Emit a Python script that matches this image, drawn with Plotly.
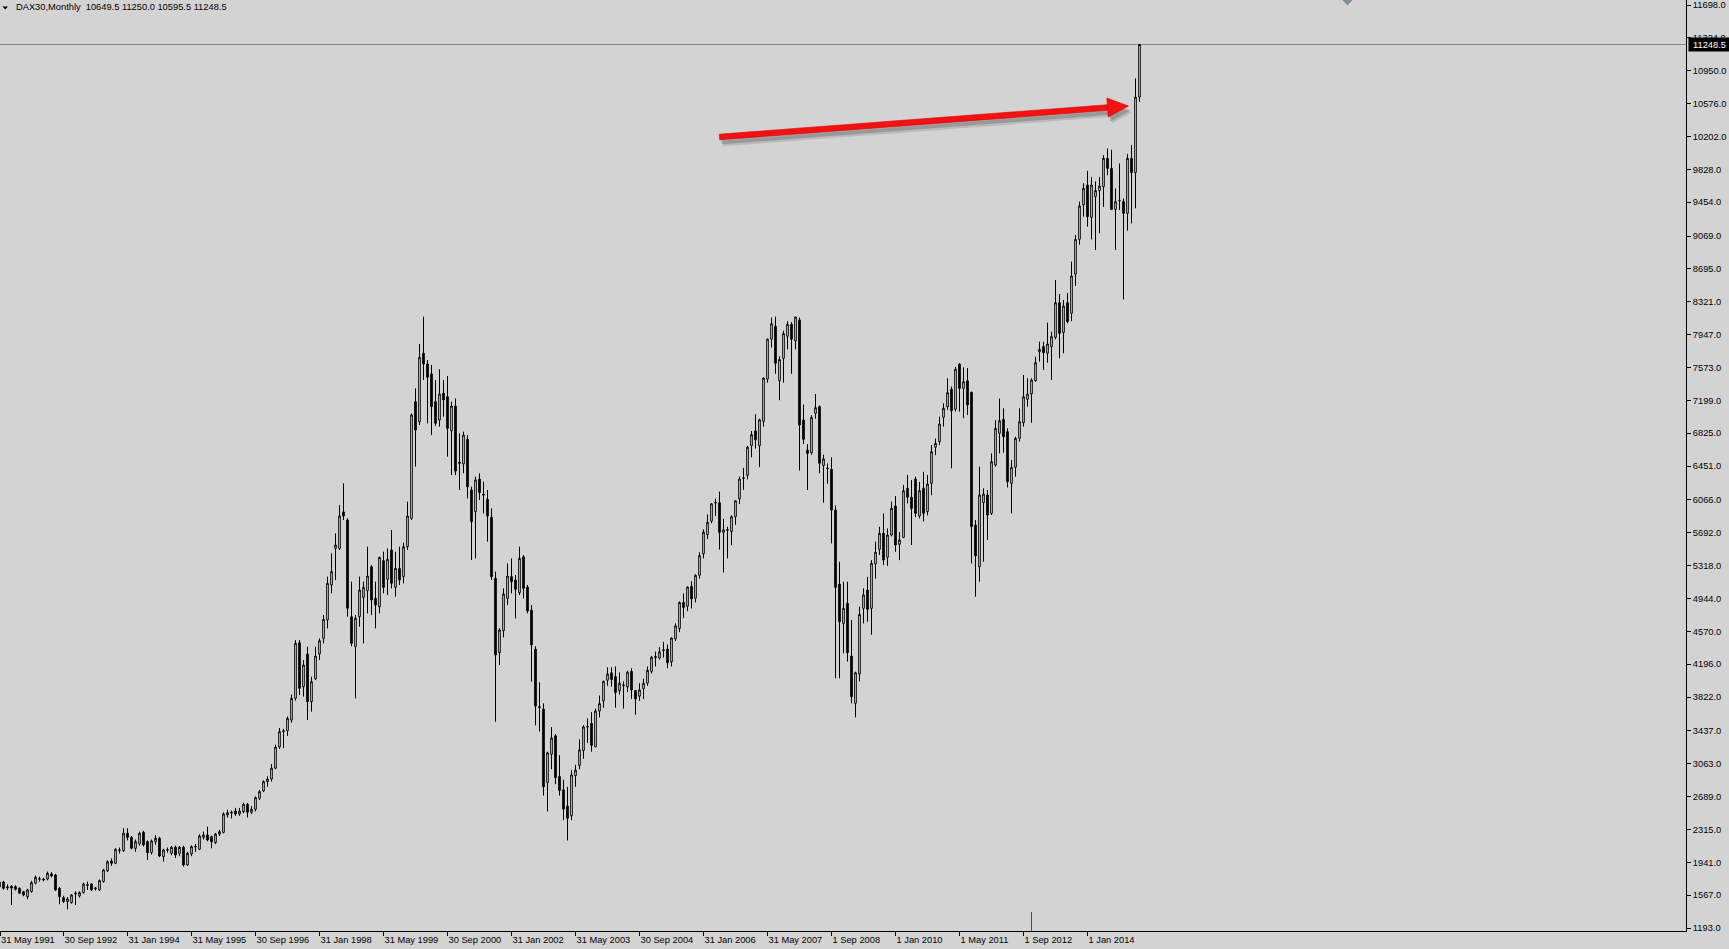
import plotly.graph_objects as go

# ---------------- data (DAX30 monthly, May 1991 .. Feb 2015) ----------------
# index 0 = May 1991, one bar per month
opens = [
    1660, 1717, 1662, 1668, 1664, 1645, 1607, 1550,
    1607, 1702, 1748, 1751, 1751, 1808, 1797, 1645, 1539, 1493, 1482, 1580,
    1558, 1596, 1686, 1694, 1640, 1626, 1721, 1846, 1956, 1930, 2076, 2074,
    2271, 2225, 2100, 2150, 2282, 2176, 2051, 2176, 2214, 2005, 2078, 2043,
    2112, 2043, 2112, 1911, 2036, 2115, 2089, 2225, 2252, 2233, 2165, 2263,
    2282, 2480, 2499, 2525, 2491, 2518, 2601, 2510, 2544, 2669, 2753, 2859,
    2889, 3012, 3253, 3428, 3438, 3560, 3807, 4440, 3940, 4311, 3769, 4030,
    4312, 4490, 4699, 5097, 5514, 5514, 5928, 5837, 4736, 4395, 4736, 4957,
    5032, 5305, 4945, 4850, 5374, 5161, 5495, 5070, 5286, 5192, 5533, 5855,
    7183, 6956, 7734, 7612, 7498, 7183, 6975, 7278, 7240, 6853, 7134, 6480,
    6474, 6755, 6178, 5931, 6303, 6130, 6072, 5867, 5173, 4327, 4577, 4945,
    5192, 5154, 5010, 5419, 5074, 4812, 4366, 3700, 3684, 2850, 3170, 3381,
    2918, 2766, 2581, 2471, 2926, 3044, 3213, 3480, 3524, 3255, 3663, 3777,
    4013, 4097, 4055, 3895, 3950, 3937, 4114, 3895, 3832, 3916, 3979, 4114,
    4270, 4265, 4350, 4366, 4223, 4484, 4602, 4897, 4855, 5082, 4947, 5208,
    5452, 5671, 5823, 6030, 6034, 5697, 5720, 5705, 5874, 6076, 6310, 6345,
    6682, 6850, 6682, 6960, 7440, 7895, 8042, 7423, 7676, 7928, 8063, 7874,
    8114, 6975, 6633, 6603, 7051, 7127, 6455, 6420, 6413, 5950, 5108, 4660,
    4888, 4289, 3750, 4084, 4831, 5040, 4831, 5336, 5503, 5685, 5412, 5666,
    5996, 5560, 5639, 6197, 6095, 6303, 5882, 6197, 5932, 6254, 6664, 6728,
    7005, 7127, 7324, 7096, 7612, 7335, 7422, 7290, 5780, 5305, 6034, 6121,
    5912, 6463, 6823, 6982, 6842, 6254, 6436, 6766, 6944, 7210, 7271, 7422,
    7752, 7810, 7734, 7810, 7916, 8310, 7969, 8310, 8189, 8636, 9031, 9422,
    9649, 9281, 9517, 9585, 9630, 9953, 9839, 9372, 9470, 9460, 9327, 9953,
    9790, 10649.5,
]
highs = [
    1725, 1730, 1690, 1680, 1680, 1655, 1615, 1640,
    1730, 1790, 1778, 1765, 1835, 1830, 1810, 1660, 1560, 1545, 1580, 1610,
    1610, 1710, 1721, 1700, 1660, 1745, 1865, 1965, 1985, 2100, 2110, 2328,
    2328, 2240, 2200, 2290, 2300, 2190, 2200, 2250, 2230, 2095, 2110, 2125,
    2130, 2125, 2130, 2060, 2135, 2150, 2260, 2290, 2347, 2245, 2275, 2310,
    2510, 2540, 2530, 2560, 2560, 2620, 2615, 2580, 2690, 2765, 2875, 2920,
    3060, 3280, 3470, 3460, 3600, 3850, 4470, 4471, 4243, 4395, 4053, 4395,
    4490, 4755, 5192, 5457, 5685, 6007, 6254, 5856, 5135, 4755, 5192, 5135,
    5533, 5324, 5135, 5419, 5476, 5514, 5723, 5476, 5533, 5579, 6045, 7050,
    7335, 7840, 8151, 7658, 7601, 7430, 7552, 7430, 7476, 7183, 7221, 6823,
    6842, 6804, 6216, 6330, 6368, 6273, 6178, 5969, 5249, 4603, 5059, 5343,
    5400, 5211, 5533, 5438, 5097, 4869, 4400, 3990, 3750, 3200, 3480, 3400,
    3160, 2880, 2800, 2990, 3050, 3340, 3500, 3580, 3650, 3690, 3840, 4010,
    4160, 4160, 4170, 4100, 4000, 4120, 4150, 3900, 3980, 4030, 4170, 4290,
    4340, 4390, 4450, 4420, 4500, 4660, 4910, 5000, 5080, 5140, 5220, 5470,
    5730, 5900, 6030, 6080, 6160, 5850, 5760, 5890, 6060, 6330, 6430, 6680,
    6850, 7040, 6990, 7460, 7900, 8140, 8151, 7700, 7990, 8100, 8090, 8150,
    8140, 7150, 6700, 7030, 7271, 7140, 6580, 6480, 6550, 6000, 5360, 5135,
    5135, 4700, 4110, 4850, 5060, 5190, 5380, 5590, 5760, 5910, 5740, 6045,
    6110, 5700, 6235, 6350, 6290, 6330, 6270, 6385, 6350, 6690, 6765, 7013,
    7165, 7450, 7355, 7580, 7620, 7575, 7565, 7298, 5836, 6443, 6197, 6178,
    6595, 6975, 7220, 7108, 6880, 6520, 6785, 7108, 7487, 7450, 7450, 7695,
    7866, 7866, 8083, 7980, 8568, 8409, 8340, 8420, 8777, 9080, 9460, 9670,
    9810, 9740, 9690, 9740, 9990, 10065, 10050, 9610, 9895, 9497, 10003, 10105,
    10864, 11250.0,
]
lows = [
    1640, 1630, 1625, 1455, 1620, 1580, 1555, 1520,
    1595, 1690, 1720, 1725, 1735, 1770, 1615, 1463, 1480, 1406, 1470, 1455,
    1540, 1585, 1626, 1615, 1620, 1615, 1710, 1830, 1900, 1920, 2040, 2060,
    2190, 2090, 2060, 2130, 2120, 1967, 2030, 2140, 2000, 1950, 2050, 2020,
    1990, 2010, 1892, 1900, 2010, 2060, 2080, 2200, 2180, 2100, 2150, 2240,
    2270, 2450, 2440, 2470, 2470, 2500, 2450, 2490, 2520, 2650, 2740, 2800,
    2860, 3000, 3230, 3240, 3380, 3530, 3780, 3845, 3826, 3560, 3655, 4015,
    4243, 4433, 4603, 5002, 5154, 5495, 5837, 4736, 4400, 3807, 4622, 4433,
    4774, 4755, 4603, 4774, 5002, 4983, 5059, 4964, 5097, 5116, 5495, 5837,
    6444, 6918, 7430, 6937, 6804, 6907, 6899, 7013, 6557, 6349, 6349, 6178,
    6368, 6083, 5381, 5400, 6064, 5912, 5590, 5154, 3540, 4186, 4501, 4869,
    5002, 4717, 4983, 4945, 4774, 3996, 3500, 3430, 2700, 2520, 3000, 2830,
    2700, 2420, 2189, 2420, 2800, 3000, 3120, 3300, 3200, 3250, 3590, 3700,
    3950, 3940, 3700, 3850, 3690, 3880, 3800, 3620, 3780, 3800, 3950, 4090,
    4170, 4250, 4270, 4150, 4170, 4460, 4560, 4720, 4800, 4830, 4900, 5170,
    5400, 5620, 5800, 5880, 5500, 5240, 5400, 5550, 5780, 6020, 6180, 6300,
    6550, 6650, 6440, 6900, 7400, 7800, 7500, 7200, 7400, 7780, 7500, 7780,
    6400, 6700, 6178, 6580, 6990, 6368, 6034, 6250, 5571, 4035, 4035, 4320,
    4225, 3750, 3591, 4000, 4660, 4680, 4530, 5170, 5440, 5325, 5315, 5650,
    5475, 5380, 5630, 6025, 5552, 5870, 5855, 5820, 5890, 6120, 6575, 6690,
    6900, 7090, 6425, 7070, 7070, 6995, 7032, 5343, 4964, 5135, 5362, 5609,
    5893, 6443, 6595, 6603, 6208, 5912, 6330, 6728, 6900, 7127, 6944, 7411,
    7639, 7544, 7627, 7430, 7893, 7677, 7734, 8075, 8100, 8500, 8970, 9290,
    9175, 9030, 8910, 9100, 9400, 9760, 9372, 8910, 9365, 8348, 9130, 9213,
    9384, 10595.5,
]
closes = [
    1715, 1645, 1652, 1648, 1634, 1588, 1569, 1626,
    1710, 1770, 1754, 1740, 1816, 1785, 1626, 1550, 1493, 1524, 1569, 1590,
    1596, 1694, 1680, 1626, 1648, 1732, 1854, 1948, 1930, 2089, 2081, 2271,
    2225, 2100, 2176, 2271, 2138, 2051, 2184, 2214, 2013, 2081, 2084, 2112,
    2024, 2112, 1911, 2043, 2119, 2121, 2241, 2252, 2195, 2176, 2263, 2290,
    2491, 2506, 2510, 2491, 2525, 2601, 2510, 2544, 2677, 2745, 2859, 2889,
    3012, 3253, 3428, 3438, 3579, 3807, 4433, 3921, 4186, 3769, 3996, 4289,
    4463, 4706, 5116, 5249, 5552, 5882, 5882, 4831, 4433, 4718, 5040, 5070,
    5199, 4926, 4869, 5412, 5070, 5389, 5116, 5286, 5154, 5533, 5882, 7032,
    6861, 7688, 7612, 7461, 7127, 6937, 7271, 7202, 6880, 7134, 6394, 6493,
    6804, 6216, 5818, 6292, 6148, 6121, 5882, 5192, 4300, 4585, 4994, 5199,
    5135, 5048, 5400, 5059, 4800, 4414, 3718, 3712, 2800, 3187, 3356, 2905,
    2758, 2547, 2442, 2935, 2989, 3221, 3482, 3484, 3271, 3663, 3747, 4000,
    4084, 4021, 3874, 3979, 3958, 4105, 3903, 3802, 3903, 3979, 4126, 4274,
    4282, 4337, 4358, 4211, 4493, 4632, 4897, 4842, 5074, 4939, 5208, 5431,
    5697, 5810, 6021, 6034, 5697, 5726, 5726, 5874, 6055, 6303, 6316, 6665,
    6808, 6749, 6977, 7452, 7895, 8071, 7621, 7663, 7958, 8063, 7895, 8147,
    6918, 6755, 6595, 7005, 7115, 6482, 6531, 6425, 5950, 5070, 4679, 4831,
    4327, 3826, 4099, 4763, 4983, 4820, 5343, 5469, 5685, 5381, 5666, 5969,
    5552, 5609, 6170, 6095, 5969, 5912, 6170, 5912, 6246, 6614, 6709, 6929,
    7108, 7286, 7081, 7552, 7335, 7411, 7146, 5761, 5427, 6121, 6132, 5893,
    6500, 6880, 6967, 6785, 6273, 6436, 6766, 6956, 7240, 7271, 7430, 7627,
    7779, 7741, 7840, 7923, 8310, 7961, 8272, 8094, 8614, 9031, 9410, 9611,
    9289, 9649, 9585, 9638, 9953, 9839, 9372, 9460, 9471, 9327, 9953, 9790,
    10649.5, 11248.5,
]
bar_index = list(range(len(closes)))

x_tick_index = [0, 16, 32, 48, 64, 80, 96, 112, 128, 144, 160, 176, 192, 208, 224, 240, 256, 272]
x_tick_labels = ["31 May 1991", "30 Sep 1992", "31 Jan 1994", "31 May 1995", "30 Sep 1996",
                 "31 Jan 1998", "31 May 1999", "30 Sep 2000", "31 Jan 2002", "31 May 2003",
                 "30 Sep 2004", "31 Jan 2006", "31 May 2007", "1 Sep 2008", "1 Jan 2010",
                 "1 May 2011", "1 Sep 2012", "1 Jan 2014"]
y_tick_values = [1193, 1567, 1941, 2315, 2689, 3063, 3437, 3822, 4196, 4570, 4944, 5318,
                 5692, 6066, 6451, 6825, 7199, 7573, 7947, 8321, 8695, 9069, 9454, 9828,
                 10202, 10576, 10950, 11324, 11698]
y_tick_labels = [f"{v}.0" for v in y_tick_values]

symbol = "DAX30,Monthly"
last_bar = (10649.5, 11250.0, 10595.5, 11248.5)
bid_price = 11248.5
marker_bar = 258                      # red vertical marker at the time axis
arrow_tail = (180.0, 10196.0)         # (bar index, price)
arrow_tip = (282.25, 10549.0)

# ---------------- layout geometry ----------------
W, H = 1729, 949
ML, MR, MT, MB = 0, 43, 0, 18
PW, PH = W - ML - MR, H - MT - MB
X_RANGE = [0.125, 0.125 + PW / 4.0]   # 4 px per monthly bar
Y_RANGE = [1159.0, 11755.0]

BG = "#D3D3D3"
FONT = "Tahoma, 'Liberation Sans', Arial, sans-serif"
FS = 9.3


def x_to_px(x):
    return (x - X_RANGE[0]) / (X_RANGE[1] - X_RANGE[0]) * PW


def px_to_x(px):
    return X_RANGE[0] + px / PW * (X_RANGE[1] - X_RANGE[0])


def y_to_py(y):
    return (Y_RANGE[1] - y) / (Y_RANGE[1] - Y_RANGE[0]) * PH


def py_to_y(py):
    return Y_RANGE[1] - py / PH * (Y_RANGE[1] - Y_RANGE[0])


# first tick sits on the very left edge of the chart; keep it inside the range
x_tick_pos = [max(v, X_RANGE[0] + 0.01) for v in x_tick_index]

fig = go.Figure()
fig.add_trace(go.Candlestick(
    x=bar_index, open=opens, high=highs, low=lows, close=closes,
    increasing=dict(line=dict(color="black", width=1), fillcolor="white"),
    decreasing=dict(line=dict(color="black", width=1), fillcolor="black"),
    whiskerwidth=0, hoverinfo="skip", showlegend=False,
))

shapes = []
# bid line
shapes.append(dict(type="line", xref="paper", x0=0, x1=1, yref="y", y0=bid_price, y1=bid_price,
                   line=dict(color="#808890", width=1), layer="below"))
# red vertical marker near time axis
shapes.append(dict(type="line", xref="x", x0=marker_bar, x1=marker_bar, yref="paper",
                   y0=0, y1=19 / PH, line=dict(color="#FF0000", width=1)))


def ppath(points):
    return "M " + " L ".join(f"{px / PW:.5f},{1 - py / PH:.5f}" for px, py in points) + " Z"


# small header triangle
shapes.append(dict(type="path", xref="paper", yref="paper",
                   path=ppath([(2.5, 6.5), (8.0, 6.5), (5.25, 9.6)]),
                   fillcolor="black", line=dict(width=0)))
# small grey marker at the top edge
shapes.append(dict(type="path", xref="paper", yref="paper",
                   path=ppath([(1342.5, 0), (1352.5, 0), (1347.5, 5.5)]),
                   fillcolor="#7F8E9D", line=dict(width=0)))

# red arrow (built in pixel space, expressed in data coordinates)
tx, ty = x_to_px(arrow_tail[0]), y_to_py(arrow_tail[1])
hx, hy = x_to_px(arrow_tip[0]), y_to_py(arrow_tip[1])
L = ((hx - tx) ** 2 + (hy - ty) ** 2) ** 0.5
ux, uy = (hx - tx) / L, (hy - ty) / L
nx, ny = -uy, ux
hl, hw, st = 21.0, 9.5, 2.8
bx, by = hx - ux * hl, hy - uy * hl
poly = [(tx + nx * st, ty + ny * st), (bx + nx * st, by + ny * st), (bx + nx * hw, by + ny * hw),
        (hx, hy), (bx - nx * hw, by - ny * hw), (bx - nx * st, by - ny * st), (tx - nx * st, ty - ny * st)]


def dpath(points, dx=0.0, dy=0.0):
    return "M " + " L ".join(f"{px_to_x(px + dx):.4f},{py_to_y(py + dy):.2f}" for px, py in points) + " Z"


shapes.append(dict(type="path", xref="x", yref="y", path=dpath(poly, 3.5, 6.5),
                   fillcolor="rgba(110,110,110,0.25)", line=dict(width=0)))
shapes.append(dict(type="path", xref="x", yref="y", path=dpath(poly, 2.0, 4.5),
                   fillcolor="rgba(90,90,90,0.35)", line=dict(width=0)))
shapes.append(dict(type="path", xref="x", yref="y", path=dpath(poly),
                   fillcolor="#F21212", line=dict(color="#E00000", width=0.6)))

annotations = [
    dict(xref="paper", x=0, xanchor="left", xshift=14, yref="paper", y=1, yanchor="middle", yshift=-7,
         showarrow=False, align="left",
         text=symbol + "\u00a0\u00a0" + " ".join(f"{v:.1f}" for v in last_bar),
         font=dict(family=FONT, size=FS, color="black")),
    dict(xref="paper", x=1, xanchor="left", xshift=2, yref="y", y=bid_price, yanchor="middle",
         showarrow=False, text=f"{bid_price:.1f}", bgcolor="black", width=39, height=11,
         borderpad=1, align="center", font=dict(family=FONT, size=FS, color="white")),
]

fig.update_layout(
    width=W, height=H, autosize=False,
    margin=dict(l=ML, r=MR, t=MT, b=MB, pad=0),
    paper_bgcolor=BG, plot_bgcolor=BG,
    showlegend=False, hovermode=False, boxgap=0.42,
    font=dict(family=FONT, size=FS, color="black"),
    shapes=shapes, annotations=annotations,
    xaxis=dict(range=X_RANGE, rangeslider=dict(visible=False), showgrid=False, zeroline=False,
               tickmode="array", tickvals=x_tick_pos, ticktext=x_tick_labels,
               ticks="outside", ticklen=4, tickwidth=1, tickcolor="black",
               ticklabelposition="outside right",
               showline=True, linecolor="black", linewidth=1,
               tickfont=dict(family=FONT, size=FS, color="black"), fixedrange=True),
    yaxis=dict(range=Y_RANGE, side="right", showgrid=False, zeroline=False,
               tickmode="array", tickvals=y_tick_values, ticktext=y_tick_labels,
               ticks="outside", ticklen=4, tickwidth=1, tickcolor="black",
               showline=True, linecolor="black", linewidth=1,
               tickfont=dict(family=FONT, size=FS, color="black"), fixedrange=True),
)

fig.write_html("out.html", config={"displayModeBar": False},
               post_script="document.body.style.margin='0';document.body.style.overflow='hidden';")
